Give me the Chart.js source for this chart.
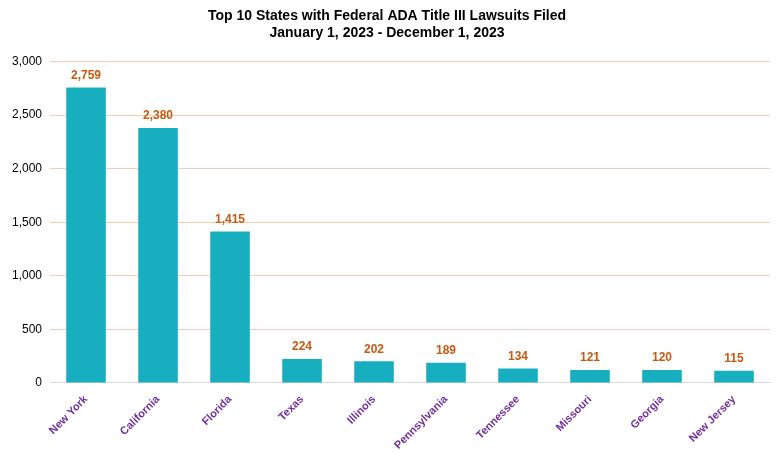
<!DOCTYPE html>
<html><head><meta charset="utf-8">
<script src="https://cdn.jsdelivr.net/npm/chart.js@4"></script>
<style>html,body{margin:0;padding:0;background:#fff}#w{width:782px;height:454px}</style>
</head><body><div id="w"><canvas id="c"></canvas></div>
<script>
const categories = ["New York","California","Florida","Texas","Illinois","Pennsylvania","Tennessee","Missouri","Georgia","New Jersey"];
const lawsuits = [2759,2380,1415,224,202,189,134,121,120,115];
const titleLines = ["Top 10 States with Federal ADA Title III Lawsuits Filed","January 1, 2023 - December 1, 2023"];
const FONT = "'Liberation Sans', Arial, sans-serif";
const labelPlugin = {
  id:'lbl',
  afterDatasetsDraw(chart){
    const ctx = chart.ctx, meta = chart.getDatasetMeta(0);
    ctx.save();
    ctx.font = "bold 12px " + FONT;
    ctx.fillStyle = "#C55A11";
    ctx.textAlign = "center"; ctx.textBaseline = "bottom";
    meta.data.forEach((b,i)=>ctx.fillText(lawsuits[i].toLocaleString('en-US'), b.x, b.y-6));
    ctx.restore();
  }
};
new Chart(document.getElementById('c'),{
  type:'bar',
  data:{labels:categories,datasets:[{data:lawsuits,backgroundColor:'#17AFBF',categoryPercentage:0.55,barPercentage:1}]},
  options:{
    responsive:true,maintainAspectRatio:false,animation:false,
    layout:{padding:{left:4,right:12,top:4,bottom:0}},
    plugins:{legend:{display:false},tooltip:{enabled:false},
      title:{display:true,text:titleLines,color:'#000',font:{family:FONT,size:14,weight:'bold'},lineHeight:1.75,padding:{top:4,bottom:20}}},
    scales:{
      x:{grid:{display:false},border:{color:'#D9D9D9'},
        ticks:{color:'#7030A0',font:{family:FONT,size:11,weight:'bold'},maxRotation:45,minRotation:45,autoSkip:false,padding:2}},
      y:{min:0,max:3000,grid:{color:'#F8CBAD',drawTicks:false},border:{display:false},
        ticks:{stepSize:500,color:'#000',font:{family:FONT,size:12},padding:8,callback:v=>v.toLocaleString('en-US')}}
    }
  },
  plugins:[labelPlugin]
});
</script></body></html>
